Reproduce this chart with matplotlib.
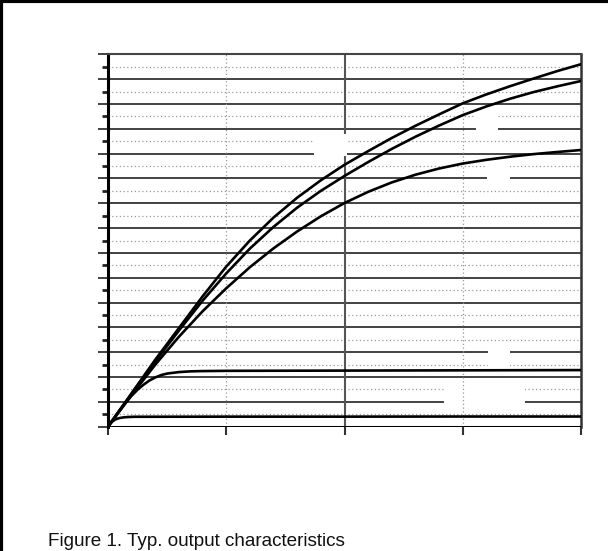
import matplotlib.pyplot as plt
import matplotlib.patches as mpatches

# output characteristics (x: 0..4, y: 0..30)
x_abc = [0, 0.2, 0.4, 0.6, 0.8, 1.0, 1.2, 1.4, 1.6, 1.8, 2.0,
         2.2, 2.4, 2.6, 2.8, 3.0, 3.2, 3.4, 3.6, 3.8, 4.0]
y_a = [0, 2.7, 5.4, 7.95, 10.5, 12.9, 15.0, 16.85, 18.45, 19.85, 21.1,
       22.2, 23.26, 24.24, 25.16, 26.05, 26.77, 27.43, 28.05, 28.65, 29.2]
y_b = [0, 2.65, 5.25, 7.75, 10.15, 12.35, 14.35, 16.1, 17.65, 19.0, 20.2,
       21.32, 22.38, 23.36, 24.26, 25.1, 25.8, 26.42, 26.96, 27.42, 27.85]
y_c = [0, 2.55, 5.0, 7.25, 9.3, 11.15, 12.85, 14.37, 15.73, 16.95, 18.02,
       18.92, 19.68, 20.3, 20.8, 21.2, 21.5, 21.75, 21.96, 22.13, 22.29]

x_d = [0, 0.05, 0.1, 0.15, 0.2, 0.25, 0.3, 0.35, 0.4, 0.45, 0.5,
       0.6, 0.7, 0.8, 1.0, 1.5, 2.0, 3.0, 4.0]
y_d = [0, 0.68, 1.35, 1.95, 2.5, 2.98, 3.38, 3.72, 3.97, 4.16, 4.28,
       4.4, 4.46, 4.48, 4.5, 4.51, 4.52, 4.54, 4.56]

x_e = [0, 0.02, 0.04, 0.06, 0.08, 0.1, 0.13, 0.17, 0.22, 0.3, 1.0, 2.0, 3.0, 4.0]
y_e = [0, 0.26, 0.44, 0.57, 0.65, 0.7, 0.75, 0.78, 0.8, 0.8, 0.81, 0.81, 0.82, 0.82]

# blanked label areas (x0, x1, y0, y1)
blanks = [(1.742, 2.021, 21.8, 23.6),
          (3.112, 3.298, 23.4, 25.5),
          (3.205, 3.40, 19.5, 21.5),
          (3.214, 3.40, 4.7, 6.5),
          (2.84, 3.53, 1.5, 3.5)]

fig = plt.figure(figsize=(6.08, 5.51), dpi=100)
ax = fig.add_axes([108 / 608, (551 - 426.7) / 551, 473 / 608, 372.4 / 551])
ax.set_xlim(0, 4)
ax.set_ylim(0, 30)

# grid
for y in range(1, 30):
    if y % 2 == 0:
        ax.axhline(y, color="#222222", lw=1.2, zorder=1)
    else:
        ax.axhline(y, color="#999999", lw=0.9, ls=(0, (1, 2)), zorder=1)
ax.axvline(1, color="#999999", lw=0.9, ls=(0, (1, 2)), zorder=1)
ax.axvline(2, color="#555555", lw=1.5, zorder=1)

for x0, x1, y0, y1 in blanks:
    ax.add_patch(mpatches.Rectangle((x0, y0), x1 - x0, y1 - y0,
                                    facecolor="white", edgecolor="none", zorder=2))
ax.axvline(3, color="#999999", lw=0.9, ls=(0, (1, 2)), zorder=3)

for xs, ys in [(x_abc, y_a), (x_abc, y_b), (x_abc, y_c), (x_d, y_d), (x_e, y_e)]:
    ax.plot(xs, ys, color="black", lw=1.9, zorder=4, solid_joinstyle="round")

ax.axhline(0, color="black", lw=2.2, zorder=5)

ax.set_xticks([0, 1, 2, 3, 4])
ax.set_yticks(range(0, 31, 2))
ax.set_yticks(range(1, 30, 2), minor=True)
ax.tick_params(axis="y", which="major", direction="out", length=7, width=1.2, color="#222222")
ax.tick_params(axis="y", which="minor", direction="out", length=4, width=2, color="#222222")
ax.tick_params(axis="x", direction="out", length=6, width=1.5, color="#333333")
ax.tick_params(labelleft=False, labelbottom=False)

ax.spines["left"].set_linewidth(2.2)
ax.spines["left"].set_color("black")
ax.spines["top"].set_linewidth(1.5)
ax.spines["top"].set_color("#444444")
ax.spines["right"].set_linewidth(1.8)
ax.spines["right"].set_color("#333333")
ax.spines["bottom"].set_visible(False)

# frame around the figure (left and top only)
fig.add_artist(plt.Line2D([0.002, 0.002], [0, 1], color="black", lw=3, transform=fig.transFigure))
fig.add_artist(plt.Line2D([0, 1], [0.998, 0.998], color="black", lw=3, transform=fig.transFigure))

fig.text(48 / 608, (551 - 541) / 551, "Figure 1. Typ. output characteristics",
         fontsize=13.6, family="Liberation Sans", va="center", ha="left", color="#111111")

fig.savefig("out.png", dpi=100)
